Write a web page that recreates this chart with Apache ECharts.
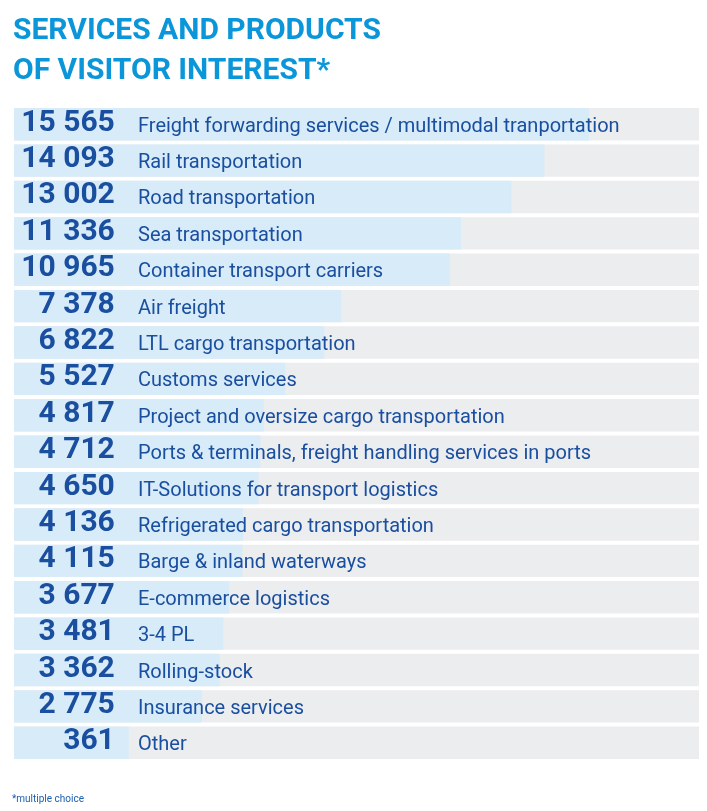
<!DOCTYPE html>
<html>
<head>
<meta charset="utf-8">
<script src="https://cdn.jsdelivr.net/npm/echarts@6/dist/echarts.min.js"></script>
<style>
  html, body { margin: 0; padding: 0; background: #fff; }
  #chart { width: 707px; height: 811px; }
</style>
</head>
<body>
<div id="chart"></div>
<script>
//--------------------- Data ---------------------------//
const categories = [
  'Freight forwarding services / multimodal tranportation',
  'Rail transportation',
  'Road transportation',
  'Sea transportation',
  'Container transport carriers',
  'Air freight',
  'LTL cargo transportation',
  'Customs services',
  'Project and oversize cargo transportation',
  'Ports & terminals, freight handling services in ports',
  'IT-Solutions for transport logistics',
  'Refrigerated cargo transportation',
  'Barge & inland waterways',
  'E-commerce logistics',
  '3-4 PL',
  'Rolling-stock',
  'Insurance services',
  'Other'
];
const visitors = [15565, 14093, 13002, 11336, 10965, 7378, 6822, 5527, 4817, 4712, 4650, 4136, 4115, 3677, 3481, 3362, 2775, 361];

//--------------------- Style ---------------------------//
const titleBlue = '#0a96d8';
const darkBlue = '#1a4fa0';
const barBlue = '#d7ebf8';
const barGrey = '#ecedef';
const numberColumn = 3430; // light blue part under the number column (value units)

// "15565" -> "15 565"
function fmt(v) {
  return String(v).replace(/\B(?=(\d{3})+(?!\d))/g, ' ');
}

const chart = echarts.init(document.getElementById('chart'));
const option = {
  animation: false,
  title: [
    {
      text: 'SERVICES AND PRODUCTS\nOF VISITOR INTEREST*',
      left: 13, top: 11, padding: 0,
      textStyle: { fontFamily: 'Roboto', fontWeight: 'bold', fontSize: 30, lineHeight: 40, color: titleBlue }
    },
    {
      text: '*multiple choice',
      left: 12, top: 794, padding: 0,
      textStyle: { fontFamily: 'Roboto', fontWeight: 'normal', fontSize: 10, color: '#1a5fb0' }
    }
  ],
  grid: { left: 14, right: 8, top: 106, height: 655, containLabel: false },
  xAxis: { type: 'value', min: 0, max: 22630, show: false },
  yAxis: {
    type: 'category',
    data: categories,
    inverse: true,
    axisLine: { show: false },
    axisTick: { show: false },
    splitLine: { show: false },
    z: 10,
    axisLabel: {
      inside: true,
      margin: 124,
      formatter: name => `{a|${name}}`,
      rich: {
        a: { fontFamily: 'Roboto', fontSize: 20, color: darkBlue, padding: [5, 0, 0, 0] }
      }
    }
  },
  series: [
    {
      type: 'bar',
      stack: 'v',
      data: visitors.map(() => numberColumn),
      barCategoryGap: '11%',
      itemStyle: { color: barBlue },
      showBackground: true,
      backgroundStyle: { color: barGrey },
      label: {
        show: true,
        position: 'insideRight',
        distance: 3,
        formatter: p => `{n|${fmt(visitors[p.dataIndex])}}`,
        rich: {
          n: { fontFamily: 'Roboto', fontWeight: 'bold', fontSize: 30, color: darkBlue, padding: [0, 0, 2, 0] }
        }
      },
      silent: true
    },
    {
      type: 'bar',
      stack: 'v',
      data: visitors,
      itemStyle: { color: barBlue },
      silent: true
    }
  ]
};
chart.setOption(option);
</script>
</body>
</html>
